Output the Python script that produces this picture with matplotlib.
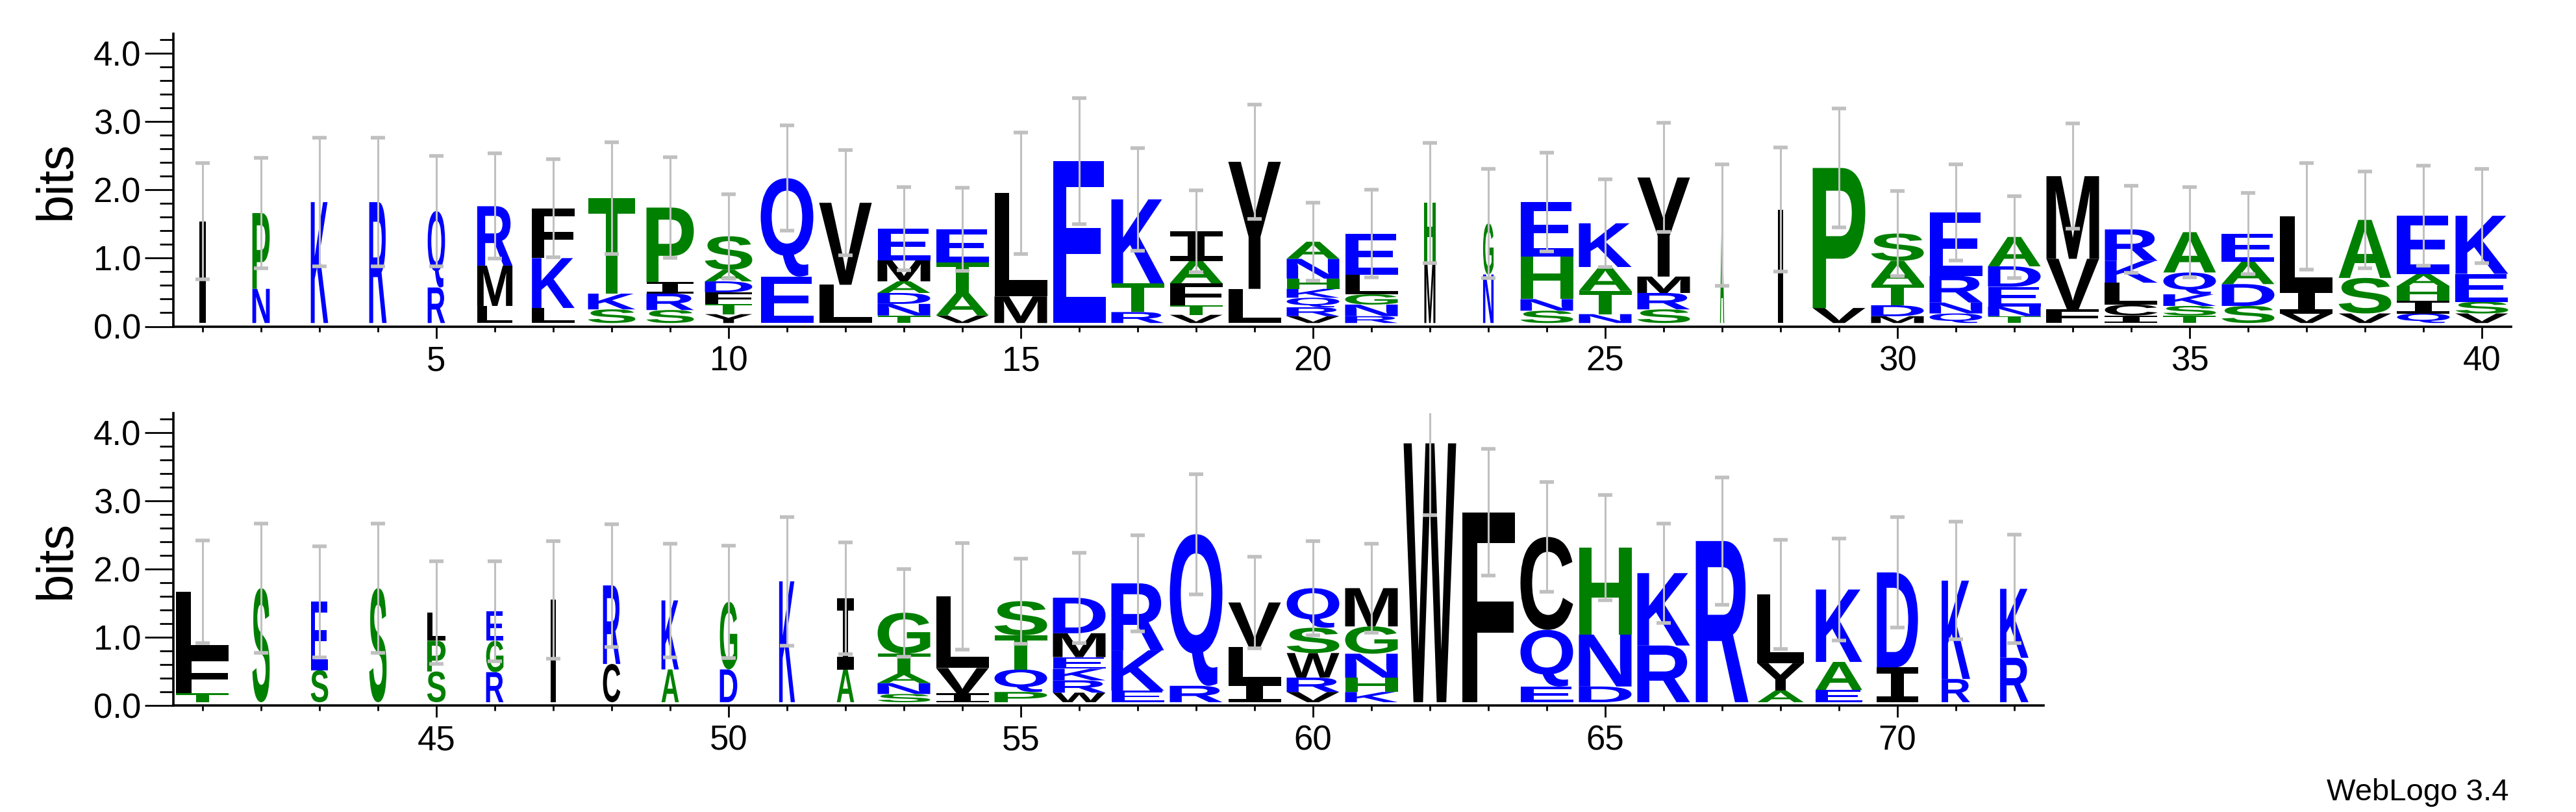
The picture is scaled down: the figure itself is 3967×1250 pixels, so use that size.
import matplotlib
matplotlib.use("Agg")
import matplotlib.pyplot as plt
from matplotlib.textpath import TextPath
from matplotlib.patches import PathPatch
from matplotlib.path import Path
from matplotlib.font_manager import FontProperties

# letters per position, bottom to top, with heights in bits
letters = [
    "I", "NP", "K", "R", "RQ", "LMR", "LKF", "SKT", "SRIP", "YTFDAS",
    "EQ", "LV", "TNDAME", "VATE", "ML", "E", "RTK", "VTFAI", "LY", "VRQKHNA",
    "RNGLE", "MH", "NG", "SNHE", "NTAK", "SRMY", "A", "I", "VP", "MDTAS",
    "QNRE", "TNEDA", "FVM", "ICLKR", "TSKQA", "SDAE", "VIL", "VSA", "QIHAE", "VSEK",
    "TFL", "S", "SE", "S", "SPL", "RGE", "I", "CR", "AK", "DG",
    "K", "AI", "SNATG", "IVL", "PQTS", "WRKEMD", "EKR", "RQ", "ILV", "VRWSQ",
    "KHNGM", "W", "F", "EQC", "DNH", "RK", "R", "AYL", "EAK", "ID",
    "RK", "RK",
]
heights = [
    [1.49], [0.50, 1.11], [1.77], [1.77], [0.52, 1.12], [0.25, 0.59, 0.87],
    [0.22, 0.73, 0.73], [0.20, 0.23, 1.40], [0.19, 0.24, 0.17, 1.09],
    [0.13, 0.15, 0.17, 0.16, 0.17, 0.49],
    [0.68, 1.44], [0.56, 1.20], [0.11, 0.17, 0.16, 0.17, 0.31, 0.46],
    [0.11, 0.33, 0.45, 0.48], [0.39, 1.51], [2.37], [0.16, 0.42, 1.23],
    [0.12, 0.14, 0.32, 0.33, 0.43], [0.50, 1.86],
    [0.10, 0.13, 0.14, 0.13, 0.15, 0.29, 0.25],
    [0.10, 0.17, 0.15, 0.29, 0.60], [0.88, 0.88], [0.71, 0.75],
    [0.18, 0.17, 0.62, 0.80], [0.13, 0.34, 0.35, 0.64], [0.20, 0.24, 0.24, 1.45],
    [1.43], [1.66], [0.22, 2.05], [0.10, 0.16, 0.30, 0.35, 0.40],
    [0.14, 0.16, 0.39, 0.93], [0.10, 0.14, 0.29, 0.30, 0.43], [0.20, 0.74, 1.21],
    [0.11, 0.16, 0.32, 0.32, 0.46], [0.11, 0.14, 0.17, 0.32, 0.59],
    [0.25, 0.32, 0.33, 0.41], [0.14, 0.36, 1.06], [0.14, 0.52, 0.85],
    [0.14, 0.19, 0.21, 0.18, 0.85], [0.14, 0.17, 0.41, 0.85],
    [0.13, 0.56, 0.93], [1.67], [0.47, 1.00], [1.67], [0.45, 0.45, 0.41],
    [0.44, 0.46, 0.43], [1.50], [0.56, 1.15], [0.48, 1.01], [0.48, 0.99],
    [1.77], [0.48, 1.04], [0.12, 0.16, 0.14, 0.29, 0.60], [0.13, 0.37, 1.05],
    [0.15, 0.33, 0.50, 0.50], [0.14, 0.18, 0.17, 0.17, 0.35, 0.52],
    [0.17, 0.59, 0.98], [0.24, 2.22], [0.29, 0.52, 0.65],
    [0.15, 0.21, 0.36, 0.37, 0.58],
    [0.15, 0.21, 0.35, 0.40, 0.56], [3.79], [2.78], [0.23, 0.83, 1.36],
    [0.23, 0.76, 1.27], [0.83, 1.06], [2.36], [0.17, 0.40, 1.01],
    [0.18, 0.41, 1.06], [0.51, 1.39], [0.34, 1.44], [0.65, 1.01],
]
errors = [
    0.85, 0.81, 0.94, 0.94, 0.81, 0.77, 0.72, 0.82, 0.74, 0.62,
    0.77, 0.77, 0.61, 0.61, 0.89, 0.92, 0.75, 0.60, 0.84, 0.57,
    0.64, 0.88, 0.80, 0.72, 0.64, 0.80, 0.89, 0.91, 0.87, 0.62,
    0.70, 0.60, 0.77, 0.64, 0.66, 0.59, 0.78, 0.71, 0.73, 0.69,
    0.75, 0.95, 0.81, 0.95, 0.75, 0.73, 0.86, 0.90, 0.83, 0.82,
    0.94, 0.82, 0.64, 0.78, 0.62, 0.66, 0.70, 0.88, 0.67, 0.69,
    0.65, 1.05, 0.93, 0.80, 0.77, 0.73, 0.93, 0.80, 0.75, 0.81,
    0.86, 0.79,
]
# relative column widths (gapped columns are drawn narrower)
widths = [
    0.12, 0.33, 0.33, 0.33, 0.33, 0.67, 0.81, 0.9, 0.9, 0.9,
    1, 1, 1, 1, 1, 1, 1, 1, 1, 1,
    1, 0.21, 0.2, 1, 1, 1, 0.08, 0.1, 1, 1,
    1, 1, 1, 1, 1, 1, 1, 1, 1, 1,
    1, 0.33, 0.33, 0.33, 0.35, 0.33, 0.1, 0.33, 0.33, 0.33,
    0.3, 0.33, 1, 1, 1, 1, 1, 1, 1, 1,
    1, 1, 1, 1, 1, 1, 1, 0.88, 0.88, 0.78,
    0.54, 0.54,
]

BLUE, GREEN, BLACK = "#0000ff", "#008000", "#000000"
colors = {}
for c in "KRDENQ":
    colors[c] = BLUE
for c in "STGHAP":
    colors[c] = GREEN
for c in "CYWMFLIV":
    colors[c] = BLACK

letter_font = FontProperties(family="Liberation Sans", weight="bold")
serif_i_font = FontProperties(family="DejaVu Sans Mono", weight="bold")
BASE = 0.05


def draw_letter(ax, ch, x, y, w, h, rel):
    prop = serif_i_font if (ch == "I" and rel > 0.2) else letter_font
    tp = TextPath((0, 0), ch, size=1, prop=prop)
    bb = tp.get_extents()
    v = tp.vertices.copy()
    v[:, 0] = x - w / 2 + (v[:, 0] - bb.x0) / bb.width * w
    v[:, 1] = y + (v[:, 1] - bb.y0) / bb.height * h
    ax.add_patch(PathPatch(Path(v, tp.codes), fc=colors[ch], ec="none", lw=0))


def style_axes(ax, lo, hi):
    ax.set_xlim(lo - 0.5, lo + 39.5)
    ax.set_ylim(0, 4.28)
    for s in ("top", "right"):
        ax.spines[s].set_visible(False)
    ax.spines["left"].set_linewidth(2.6)
    ax.spines["bottom"].set_linewidth(2.6)
    ax.spines["bottom"].set_bounds(lo - 0.5, hi + 0.5)
    ax.spines["left"].set_bounds(0, 4.28)
    ax.set_yticks([0, 1, 2, 3, 4])
    ax.set_yticklabels(["0.0", "1.0", "2.0", "3.0", "4.0"])
    ax.set_yticks([i * 0.2 for i in range(22)], minor=True)
    ax.set_xticks([p for p in range(lo, hi + 1) if p % 5 == 0])
    ax.set_xticks(list(range(lo, hi + 1)), minor=True)
    ax.tick_params(axis="y", which="major", length=32, width=2, labelsize=38, pad=4)
    ax.tick_params(axis="y", which="minor", length=15, width=2)
    ax.tick_params(axis="x", which="major", length=13, width=2, labelsize=38, pad=8)
    ax.tick_params(axis="x", which="minor", length=6, width=2)
    ax.set_ylabel("bits", fontsize=56, labelpad=14)


def draw_row(ax, lo, hi):
    for p in range(lo, hi + 1):
        i = p - 1
        w = 0.9 * widths[i]
        y = BASE
        for ch, h in zip(letters[i], heights[i]):
            draw_letter(ax, ch, p, y, w, h, widths[i])
            y += h
        e = errors[i]
        ax.plot([p, p], [y - e, y + e], color="#c0c0c0", lw=2.2, zorder=5)
        for yy in (y - e, y + e):
            ax.plot([p - 0.12, p + 0.12], [yy, yy], color="#c0c0c0", lw=4,
                    solid_capstyle="butt", zorder=5)


plt.rcParams["font.family"] = ["Liberation Sans", "DejaVu Sans"]
fig = plt.figure(figsize=(39.67, 12.5), dpi=100)
ax1 = fig.add_axes([267 / 3967, 0.598, 3600 / 3967, 0.36])
ax2 = fig.add_axes([267 / 3967, 0.131, 3600 / 3967, 0.36])
style_axes(ax1, 1, 40)
style_axes(ax2, 41, 72)
draw_row(ax1, 1, 40)
draw_row(ax2, 41, 72)

fig.text(0.974, 0.014, "WebLogo 3.4", ha="right", va="baseline", fontsize=34,
         family=["Liberation Sans Narrow", "Liberation Sans", "DejaVu Sans"])

fig.savefig("out.png", dpi=100)
